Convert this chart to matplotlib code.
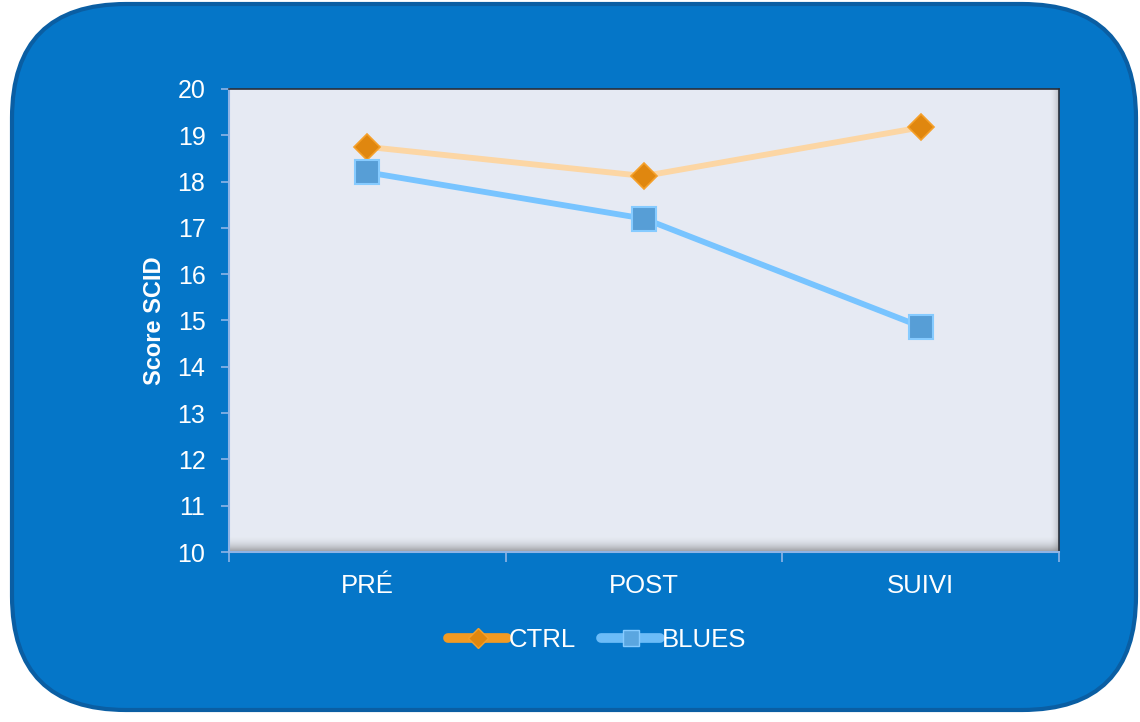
import numpy as np
import matplotlib
matplotlib.use("Agg")
import matplotlib.pyplot as plt
from matplotlib.patches import FancyBboxPatch
from matplotlib.lines import Line2D

plt.rcParams['font.family'] = ['Liberation Sans', 'DejaVu Sans']

# ==== data ====
categories = ["PRÉ", "POST", "SUIVI"]
ctrl = [18.75, 18.12, 19.17]
blues = [18.2, 17.2, 14.87]
yticks = list(range(10, 21))

BG_BLUE = "#0576c8"
PLOT_BG = "#e6eaf3"
TICK_BLUE = "#8fb4e6"

fig = plt.figure(figsize=(11.4, 7.22), dpi=100)
fig.patch.set_facecolor("white")

# rounded blue panel
panel = FancyBboxPatch((12 / 1140, 12 / 722), 1124 / 1140, 706 / 722,
                       boxstyle="round,pad=0,rounding_size=0.1",
                       mutation_aspect=1140 / 722,
                       transform=fig.transFigure, facecolor=BG_BLUE,
                       edgecolor="#0a5ea3", linewidth=3, zorder=-10)
fig.patches.append(panel)

ax = fig.add_axes([229 / 1140, 170 / 722, 830 / 1140, 463 / 722])
ax.set_facecolor(PLOT_BG)

x = np.arange(len(categories))

# bottom / right shadow of the plot area
grad = np.zeros((20, 2, 4))
grad[..., :3] = 0.45
grad[..., 3] = np.linspace(0.0, 0.8, 20)[:, None] ** 2
ax.imshow(grad, extent=[0, 1, 0, 0.035], transform=ax.transAxes,
          aspect="auto", origin="upper", zorder=1)
gr = np.zeros((2, 20, 4))
gr[..., :3] = 0.45
gr[..., 3] = np.linspace(0.0, 0.6, 20)[None, :] ** 2
ax.imshow(gr, extent=[0.988, 1, 0, 1], transform=ax.transAxes,
          aspect="auto", zorder=1)

ax.plot(x, ctrl, color="#fcd6a4", linewidth=4.2, solid_capstyle="round",
        marker="D", markersize=13, markerfacecolor="#e0870f",
        markeredgecolor="#f5a02a", markeredgewidth=1.2, zorder=3)
ax.plot(x, blues, color="#78c4ff", linewidth=4.2, solid_capstyle="round",
        marker="s", markersize=17, markerfacecolor="#579ed6",
        markeredgecolor="#86cbff", markeredgewidth=1.5, zorder=3)

ax.set_xlim(-0.5, 2.5)
ax.set_ylim(10, 20)
ax.set_yticks(yticks)
ax.set_xticks([-0.5, 0.5, 1.5, 2.5])
ax.set_xticklabels([])
ax.set_xticks(x, minor=True)
ax.set_xticklabels(categories, minor=True)

ax.tick_params(axis="y", colors=TICK_BLUE, labelcolor="white", labelsize=18,
               length=6, width=1.2, pad=11)
ax.tick_params(axis="x", which="major", colors=TICK_BLUE, length=7, width=1.2)
ax.tick_params(axis="x", which="minor", length=0, labelcolor="white",
               labelsize=18.5, pad=16)

for side in ["left", "bottom"]:
    ax.spines[side].set_color(TICK_BLUE)
    ax.spines[side].set_linewidth(1.5)
for side in ["top", "right"]:
    ax.spines[side].set_color("#2a2f3a")
    ax.spines[side].set_linewidth(1.2)

ax.set_ylabel("Score SCID", color="white", fontsize=17, fontweight="bold")
ax.yaxis.set_label_coords((166 - 229) / 830, 0.5)

handles = [
    Line2D([], [], color="#f29a22", linewidth=7, solid_capstyle="round",
           marker="D", markersize=10, markerfacecolor="#e0870f",
           markeredgecolor="#f5a02a"),
    Line2D([], [], color="#6cbcf8", linewidth=7, solid_capstyle="round",
           marker="s", markersize=12, markerfacecolor="#5aa6e0",
           markeredgecolor="#86cbff"),
]
leg = fig.legend(handles, ["CTRL", "BLUES"], loc="center",
                 bbox_to_anchor=(597 / 1140, 1 - 640 / 722),
                 ncol=2, frameon=False, fontsize=18.5, handlelength=2.3,
                 handletextpad=0.05, columnspacing=1.0)
for t in leg.get_texts():
    t.set_color("white")

fig.savefig("out.png", dpi=100, facecolor="white")
